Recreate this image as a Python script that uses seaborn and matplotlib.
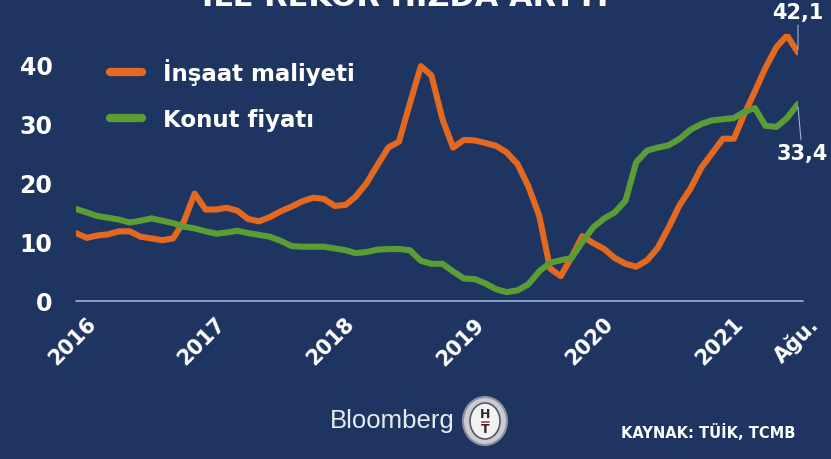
import numpy as np
import pandas as pd
import seaborn as sns
import matplotlib.pyplot as plt
import matplotlib.transforms as mtransforms
from matplotlib.patches import Ellipse, Rectangle

# monthly data, Jan 2016 - Aug 2021 (annual % change)
months = pd.date_range('2016-01-01', periods=68, freq='MS')

insaat = [11.5, 10.7, 11.1, 11.3, 11.8, 11.8, 10.9, 10.6, 10.3, 10.6, 13.5, 18.2,
          15.5, 15.5, 15.8, 15.3, 13.9, 13.5, 14.2, 15.2, 16.0, 16.9, 17.5, 17.3,
          16.1, 16.3, 17.7, 20.0, 23.0, 26.0, 27.0, 33.5, 39.8, 38.2, 30.8, 26.0,
          27.3, 27.2, 26.8, 26.3, 25.2, 23.2, 19.5, 14.5, 5.5, 4.2, 7.5, 11.0,
          9.8, 8.8, 7.3, 6.3, 5.8, 6.9, 9.0, 12.5, 16.3, 19.0, 22.6, 25.0,
          27.5, 27.5, 31.5, 35.5, 39.5, 43.0, 45.0, 42.1]

konut = [15.6, 15.0, 14.4, 14.1, 13.8, 13.3, 13.6, 14.0, 13.6, 13.2, 12.6, 12.3,
         11.8, 11.4, 11.6, 11.9, 11.5, 11.2, 10.9, 10.2, 9.3, 9.2, 9.2, 9.2,
         8.9, 8.6, 8.1, 8.3, 8.7, 8.8, 8.8, 8.6, 6.8, 6.3, 6.3, 5.0,
         3.8, 3.7, 3.0, 2.0, 1.5, 1.8, 2.8, 5.0, 6.5, 6.9, 7.3, 10.0,
         12.5, 14.0, 15.0, 17.0, 23.5, 25.5, 26.0, 26.4, 27.5, 29.0, 30.0, 30.6,
         30.8, 31.0, 32.0, 32.7, 29.7, 29.5, 31.0, 33.4]

series_names = ['İnşaat maliyeti', 'Konut fiyatı']
tick_years = ['2016', '2017', '2018', '2019', '2020', '2021']
yticks = [0, 10, 20, 30, 40]

df = pd.DataFrame({'tarih': list(months) * 2,
                   'deger': insaat + konut,
                   'seri': [series_names[0]] * 68 + [series_names[1]] * 68})

bg = '#1e3562'
sns.set_style('dark')
plt.rcParams['font.family'] = ['DejaVu Sans']

fig = plt.figure(figsize=(8.31, 4.6), dpi=100, facecolor=bg)
ax = fig.add_axes([76 / 831, 1 - 310 / 460, (798 - 76) / 831, 275 / 460])
ax.set_facecolor(bg)

sns.lineplot(data=df, x='tarih', y='deger', hue='seri', ax=ax,
             palette=['#e2691f', '#5c9c35'], linewidth=4.4, legend=True)

ax.axhline(0, color='#9fb2d6', lw=1.2, zorder=0, xmax=1.007, clip_on=False)
ax.set_xlim(months[0], months[-1])
ax.set_ylim(-1.36, 45.25)
for s in ax.spines.values():
    s.set_visible(False)
ax.grid(False)

ax.set_yticks(yticks)
ax.set_yticklabels([str(v) for v in yticks])
ax.tick_params(axis='y', length=0, pad=17, labelsize=17, labelcolor='white')

xt = [pd.Timestamp(y + '-01-01') for y in tick_years] + [months[-1]]
ax.set_xticks(xt)
ax.set_xticklabels(tick_years + ['Ağu.'])
ax.tick_params(axis='x', length=0, pad=3, labelsize=15, labelcolor='white')
shift = mtransforms.ScaledTranslation(7 / 72, 0, fig.dpi_scale_trans)
for lab in ax.get_xticklabels():
    lab.set_rotation(45)
    lab.set_ha('right')
    lab.set_rotation_mode('anchor')
    lab.set_fontweight('bold')
    lab.set_transform(lab.get_transform() + shift)
for lab in ax.get_yticklabels():
    lab.set_fontweight('bold')
ax.set_xlabel('')
ax.set_ylabel('')

handles, labels = ax.get_legend_handles_labels()
leg = ax.legend(handles, labels, loc='upper left', bbox_to_anchor=(110 / 831, 1 - 59 / 460),
                bbox_transform=fig.transFigure, frameon=False, fontsize=16.5,
                handlelength=1.4, handletextpad=0.9, labelspacing=1.0,
                borderpad=0, borderaxespad=0)
for t in leg.get_texts():
    t.set_color('white')
    t.set_fontweight('bold')
for h in leg.get_lines():
    h.set_linewidth(6)
    h.set_solid_capstyle('round')

# end-point labels
ax.annotate('42,1', xy=(months[-1], insaat[-1] + 0.5), xytext=(0, 20), textcoords='offset points',
            ha='center', va='bottom', color='white', fontsize=15, fontweight='bold',
            arrowprops=dict(arrowstyle='-', color='#9fb2d6', lw=0.8, shrinkA=0, shrinkB=0),
            annotation_clip=False)
ax.annotate('33,4', xy=(months[-1], konut[-1] - 0.5), xytext=(3, -26), textcoords='offset points',
            ha='center', va='top', color='white', fontsize=15, fontweight='bold',
            arrowprops=dict(arrowstyle='-', color='#9fb2d6', lw=0.8, shrinkA=0, shrinkB=0),
            annotation_clip=False)

# cut-off title
fig.text(0.487, 1 - 6 / 460, 'İLE REKOR HIZDA ARTTI', ha='center', va='baseline',
         color='white', fontsize=22, fontweight='bold')

# footer
fig.text(455 / 831, 1 - 421 / 460, 'Bloomberg', ha='right', va='center', color='#e6ebf3',
         fontsize=18.5, family='Liberation Sans')
cx, cy = 485 / 831, 1 - 422 / 460
fig.patches.append(Ellipse((cx, cy), 44 / 831, 48 / 460, transform=fig.transFigure,
                           facecolor='#c9ccd2', edgecolor='#8d929b', lw=1.5))
fig.patches.append(Ellipse((cx, cy), 30 / 831, 36 / 460, transform=fig.transFigure,
                           facecolor='#f2f2f2', edgecolor='#55595f', lw=1.2))
fig.patches.append(Rectangle((cx - 5 / 831, cy - 1.5 / 460), 10 / 831, 3 / 460,
                             transform=fig.transFigure, facecolor='#c0282d', zorder=3))
fig.text(cx, cy, 'H\nT', ha='center', va='center', color='#2a2a2a', fontsize=9,
         fontweight='bold', linespacing=1.25)

fig.text(795 / 831, 1 - 433 / 460, 'KAYNAK: TÜİK, TCMB', ha='right', va='center', color='white',
         fontsize=10.5, fontweight='bold')

fig.savefig('out.png', dpi=100, facecolor=bg)
